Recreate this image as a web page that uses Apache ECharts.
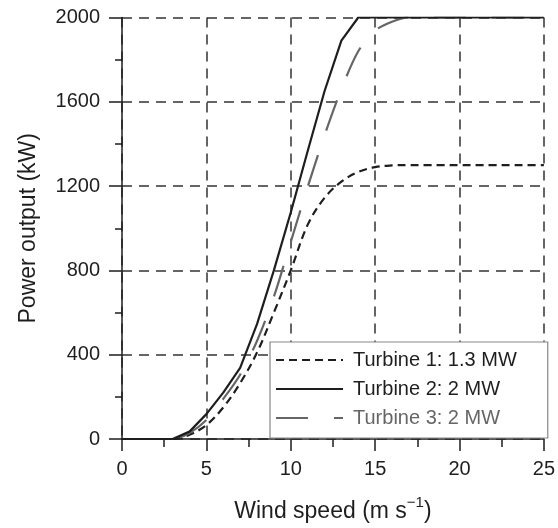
<!DOCTYPE html>
<html>
<head>
<meta charset="utf-8">
<script src="https://cdn.jsdelivr.net/npm/echarts@6/dist/echarts.min.js"></script>
<style>html,body{margin:0;padding:0;background:#fff;}#c{width:558px;height:528px;}</style>
</head>
<body>
<div id="c"></div>
<script>
var windSpeed = [0,1,2,3,4,5,6,7,8,9,10,11,12,13,14,15,16,17,18,19,20,21,22,23,24,25];
var turbine1 = [0,0,0,0,20,66,150,265,410,600,800,1016,1144,1221,1267,1290,1298,1300,1300,1300,1300,1300,1300,1300,1300,1300];
var turbine2 = [0,0,0,0,35,118,220,337,545,800,1075,1365,1650,1890,2000,2000,2000,2000,2000,2000,2000,2000,2000,2000,2000,2000];
var turbine3 = [0,0,0,0,28,90,190,305,465,675,935,1195,1440,1660,1840,1938,1980,2000,2000,2000,2000,2000,2000,2000,2000,2000];
var seriesNames = ['Turbine 1: 1.3 MW','Turbine 2: 2 MW','Turbine 3: 2 MW'];
var xTitle = 'Wind speed (m s{sup|\u22121})';
var yTitle = 'Power output (kW)';

function pairs(ys){ return windSpeed.map(function(x,i){ return [x, ys[i]]; }); }

var font = 'Liberation Sans, Arial, Helvetica, sans-serif';
var ink = '#1e1e1e';
var chart = echarts.init(document.getElementById('c'), null, {renderer:'canvas'});
chart.setOption({
  animation:false,
  backgroundColor:'#fff',
  grid:{left:122, right:11, top:17.5, bottom:88, containLabel:false},
  xAxis:{
    type:'value', min:0, max:25, interval:5,
    name:xTitle, nameLocation:'middle', nameGap:56,
    nameTextStyle:{fontFamily:font, fontSize:23, color:ink,
      rich:{sup:{fontFamily:font, fontSize:15, color:ink, verticalAlign:'top', padding:[0,0,18,0]}}},
    axisLine:{show:true, lineStyle:{color:ink, width:1.5}},
    axisTick:{show:true, inside:false, length:12, lineStyle:{color:ink, width:1.5}},
    minorTick:{show:true, splitNumber:2, length:8, lineStyle:{color:ink, width:1.5}},
    axisLabel:{fontFamily:font, fontSize:20, color:ink, margin:20},
    splitLine:{show:true, lineStyle:{color:'#333', width:1.5, type:[10,7]}}
  },
  yAxis:{
    type:'value', min:0, max:2000, interval:400,
    name:yTitle, nameLocation:'middle', nameGap:82,
    nameTextStyle:{fontFamily:font, fontSize:23, color:ink},
    axisLine:{show:true, lineStyle:{color:ink, width:1.5}},
    axisTick:{show:true, inside:false, length:13, lineStyle:{color:ink, width:1.5}},
    minorTick:{show:true, splitNumber:2, length:7, lineStyle:{color:ink, width:1.5}},
    axisLabel:{fontFamily:font, fontSize:20, color:ink, margin:22, formatter:function(v){ return String(v); }},
    splitLine:{show:true, lineStyle:{color:'#333', width:1.5, type:[10,7]}}
  },
  legend:{
    orient:'vertical', left:270, top:342,
    backgroundColor:'#fff', borderColor:'#888', borderWidth:1.2,
    padding:[7,31,9,5],
    itemWidth:67, itemHeight:22, itemGap:7,
    itemStyle:{opacity:0, borderWidth:0},
    textStyle:{fontFamily:font, fontSize:20, color:ink, lineHeight:22, padding:[0,0,0,5]},
    data:[
      {name:seriesNames[0]},
      {name:seriesNames[1]},
      {name:seriesNames[2], textStyle:{color:'#666'}}
    ]
  },
  series:[
    {name:seriesNames[0], type:'line', data:pairs(turbine1), symbol:'none', smooth:0.35, z:3,
     lineStyle:{color:ink, width:2.2, type:[8,5]}, itemStyle:{color:ink}},
    {name:seriesNames[1], type:'line', data:pairs(turbine2), symbol:'none', z:4,
     lineStyle:{color:ink, width:2.2, type:'solid'}, itemStyle:{color:ink}},
    {name:seriesNames[2], type:'line', data:pairs(turbine3), symbol:'none', smooth:0.3, z:3,
     lineStyle:{color:'#666', width:2.2, type:[32,26]}, itemStyle:{color:'#666'}}
  ]
});
</script>
</body>
</html>
